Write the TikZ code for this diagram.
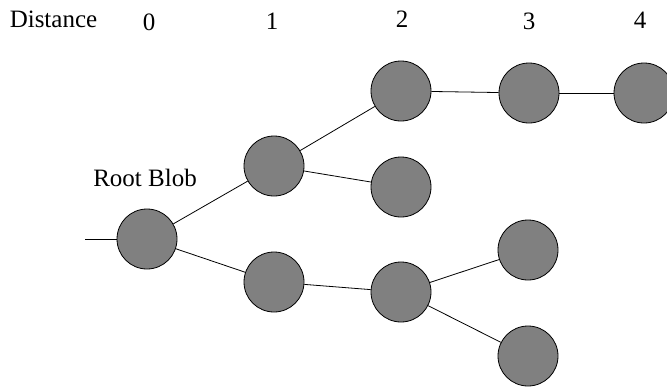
\documentclass[tikz,border=0pt]{standalone}
\usepackage{fontspec}
\setmainfont{Liberation Serif}
\usepackage{tikz}

\begin{document}
\begin{tikzpicture}[x=1pt,y=-1pt,
		blob/.style={circle,draw,fill=gray,minimum size=60pt,inner sep=0pt,line width=0.8pt},
		lbl/.style={anchor=base,inner sep=0pt,font=\fontsize{25}{30}\selectfont},
		every edge/.style={draw, line width=0.8pt}]
		\useasboundingbox (0,0) rectangle (667,386);
		\node[lbl] (dist) at (53.5,27) {Distance};
		\node[lbl] (d0) at (149,30) {0};
		\node[lbl] (d1) at (272,29) {1};
		\node[lbl] (d2) at (402,27) {2};
		\node[lbl] (d3) at (529,29) {3};
		\node[lbl] (d4) at (640,28) {4};
		\node[lbl] (rootlbl) at (145,186) {Root Blob};
		
		\coordinate (stem) at (85,239);
		\node[blob] (r0) at (147,239) {};
		\node[blob] (a1) at (274,166) {};
		\node[blob] (b1) at (274,282) {};
		\node[blob] (a2) at (401,91) {};
		\node[blob] (b2) at (401,187) {};
		\node[blob] (c2) at (401,292) {};
		\node[blob] (a3) at (529,93) {};
		\node[blob] (b3) at (528,250) {};
		\node[blob] (c3) at (528,356) {};
		\node[blob] (a4) at (644,93) {};
		
		\draw (stem) edge (r0);
		\draw (r0) edge (a1);
		\draw (r0) edge (b1);
		\draw (a1) edge (a2);
		\draw (a1) edge (b2);
		\draw (a2) edge (a3);
		\draw (a3) edge (a4);
		\draw (b1) edge (c2);
		\draw (c2) edge (b3);
		\draw (c2) edge (c3);
	\end{tikzpicture}
\end{document}
